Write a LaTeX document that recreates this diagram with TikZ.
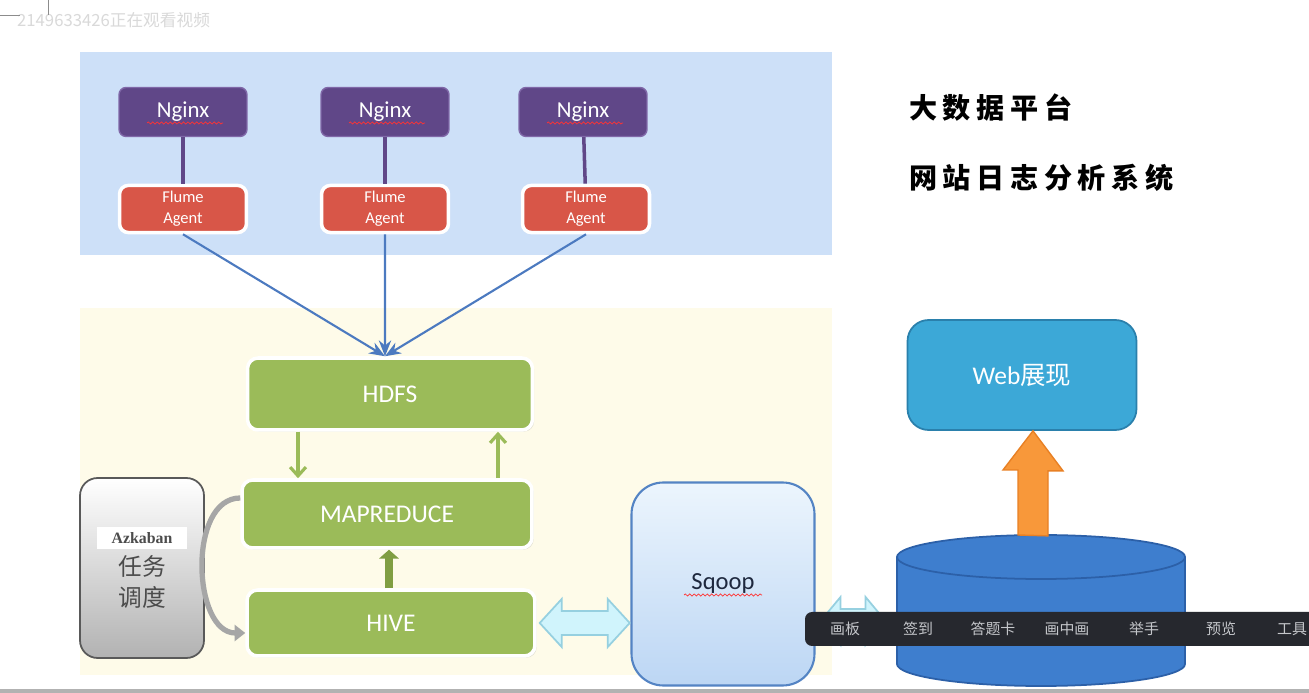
\documentclass[tikz,border=0pt]{standalone}
\usepackage{fontspec}
\setmainfont{Carlito}
\newfontfamily\cjk{Noto Sans CJK SC}
\newfontfamily\cjktitle{Noto Sans CJK SC}[LetterSpace=20]
\newfontfamily\azkfont{Liberation Serif}
\usetikzlibrary{arrows.meta, positioning, calc, shadows, decorations.pathmorphing}

\definecolor{skybg}{RGB}{205,224,248}
\definecolor{creambg}{RGB}{254,251,233}
\definecolor{nginxfill}{RGB}{96,71,136}
\definecolor{nginxline}{RGB}{128,104,168}
\definecolor{flumefill}{RGB}{216,86,72}
\definecolor{feedblue}{RGB}{76,122,192}
\definecolor{hgreen}{RGB}{155,187,89}
\definecolor{hgreendark}{RGB}{128,158,66}
\definecolor{azkgray}{RGB}{178,178,178}
\definecolor{sqtop}{RGB}{236,245,253}
\definecolor{sqbot}{RGB}{188,214,244}
\definecolor{sqline}{RGB}{84,132,196}
\definecolor{cyanfill}{RGB}{208,244,252}
\definecolor{cyanline}{RGB}{150,208,224}
\definecolor{webfill}{RGB}{60,168,215}
\definecolor{webline}{RGB}{42,128,172}
\definecolor{dbfill}{RGB}{62,126,206}
\definecolor{dbline}{RGB}{44,96,168}
\definecolor{orangefill}{RGB}{248,152,58}
\definecolor{orangeline}{RGB}{232,128,36}
\definecolor{barbg}{RGB}{38,40,46}
\definecolor{bartext}{RGB}{196,198,202}

\begin{document}
\begin{tikzpicture}[
    x=0.02cm, y=0.02cm,
    nginx/.style={rectangle, rounded corners=4pt, draw=nginxline, line width=0.8pt, fill=nginxfill, text=white, minimum width=2.56cm, minimum height=0.98cm, font=\fontsize{13}{15}\selectfont},
    flume/.style={rectangle, rounded corners=5pt, draw=white, line width=2pt, fill=flumefill, text=white, minimum width=2.54cm, minimum height=0.94cm, align=center, font=\fontsize{9.4}{12}\selectfont, drop shadow={shadow xshift=0.5pt, shadow yshift=-0.5pt, opacity=0.2}},
    hbox/.style={rectangle, rounded corners=6pt, draw=white, line width=2pt, fill=hgreen, text=white, font=\fontsize{14.5}{16}\selectfont, drop shadow={shadow xshift=1pt, shadow yshift=-1pt, opacity=0.2}},
    feed/.style={-{Stealth[length=9pt,width=7pt]}, draw=feedblue, line width=1.2pt},
    link/.style={draw=nginxfill, line width=2pt},
    gline/.style={-{Straight Barb[length=5pt,width=9pt]}, draw=hgreen, line width=1.8pt},
    sched/.style={-{Triangle[length=6pt,width=9pt]}, draw=gray!70, line width=3pt},
    spell/.style={draw=red!80, line width=0.4pt, decorate, decoration={snake, amplitude=0.6pt, segment length=2.5pt}},
    bartxt/.style={text=bartext, font=\cjk\fontsize{8.5}{10}\selectfont}
]
    \useasboundingbox (0,0) rectangle (1309,693);
    \fill[white] (0,0) rectangle (1309,693);

    % Backgrounds
    \fill[skybg] (80,438) rectangle (832,641);
    \fill[creambg] (80,18) rectangle (832,385);

    % Log sources
    \node[nginx] (n1) at (183,581) {Nginx};
    \node[nginx] (n2) at (385,581) {Nginx};
    \node[nginx] (n3) at (583,581) {Nginx};
    \draw[spell] ([xshift=-0.72cm,yshift=-0.22cm]n1.center) -- ++(76,0);
    \draw[spell] ([xshift=-0.72cm,yshift=-0.22cm]n2.center) -- ++(76,0);
    \draw[spell] ([xshift=-0.72cm,yshift=-0.22cm]n3.center) -- ++(76,0);

    % Collectors
    \node[flume] (f1) at (183,484) {Flume\\Agent};
    \node[flume] (f2) at (385,484) {Flume\\Agent};
    \node[flume] (f3) at (586,484) {Flume\\Agent};
    \draw[link] (n1) -- (f1);
    \draw[link] (n2) -- (f2);
    \draw[link] (n3) -- (f3);

    % Hadoop stack
    \node[hbox, minimum width=5.7cm, minimum height=1.44cm] (hdfs) at (390,299) {HDFS};
    \node[hbox, minimum width=5.8cm, minimum height=1.36cm] (mr) at (387,179) {MAPREDUCE};
    \node[hbox, minimum width=5.76cm, minimum height=1.32cm] (hive) at (391,70) {HIVE};

    \draw[feed] (f1.south) -- ([xshift=-0.1cm]hdfs.north);
    \draw[feed] (f2.south) -- ([xshift=-0.1cm]hdfs.north);
    \draw[feed] (f3.south) -- ([xshift=-0.1cm]hdfs.north);

    \coordinate (dn) at ([xshift=-1.84cm]hdfs.south);
    \coordinate (up) at ([xshift=2.16cm]hdfs.south);
    \draw[gline] (dn) -- (dn |- mr.north);
    \draw[gline] (up |- mr.north) -- (up);
    \draw[-{Triangle[length=5pt,width=11pt]}, draw=hgreendark, line width=4.5pt] ([xshift=-0.04cm]hive.north) -- ([xshift=-0.04cm]hive.north |- mr.south);

    % Scheduler
    \node[rectangle, rounded corners=10pt, draw=black!65, line width=1pt, top color=white, bottom color=azkgray, minimum width=2.48cm, minimum height=3.6cm, align=center, text=black!70, font=\cjk\fontsize{13.5}{18}\selectfont] (azk) at (142,125)
        {\colorbox{white}{\makebox[1.6cm]{\azkfont\bfseries\fontsize{9}{10}\selectfont Azkaban}}\\任务\\调度};
    \draw[sched] ([yshift=0.32cm]mr.west) to[out=180, in=180, looseness=1] ([yshift=-0.2cm]hive.west);

    % Export
    \node[rectangle, rounded corners=18pt, draw=sqline, line width=1.2pt, top color=sqtop, bottom color=sqbot, minimum width=3.66cm, minimum height=4.06cm, text={rgb,255:red,30;green,40;blue,62}, font=\fontsize{14}{16}\selectfont] (sqoop) at (723,109) {Sqoop};
    \draw[spell] ([xshift=-0.78cm,yshift=-0.22cm]sqoop.center) -- ++(78,0);

    \coordinate (hs) at ([xshift=0.06cm]hive.east);
    \filldraw[fill=cyanfill, draw=cyanline, line width=1pt] (hs) -- ++(22,24) -- ++(0,-12) -- ++(46,0) -- ++(0,12) -- ++(22,-24) -- ++(-22,-24) -- ++(0,12) -- ++(-46,0) -- ++(0,-12) -- cycle;
    \coordinate (sd) at ([xshift=0.1cm,yshift=-0.74cm]sqoop.east);
    \filldraw[fill=cyanfill, draw=cyanline, line width=1pt] (sd) -- ++(20,24) -- ++(0,-12) -- ++(25,0) -- ++(0,12) -- ++(20,-24) -- ++(-20,-24) -- ++(0,12) -- ++(-25,0) -- ++(0,-12) -- cycle;

    % Database
    \filldraw[fill=dbfill, draw=dbline, line width=1pt] (897,136) -- (897,29) arc[start angle=180, end angle=360, x radius=144, y radius=22] -- (1185,136);
    \filldraw[fill=dbfill, draw=dbline, line width=1pt] (1041,136) ellipse[x radius=144, y radius=22];
    \coordinate (dbtop) at (1033,158);

    % Presentation
    \node[rectangle, rounded corners=12pt, draw=webline, line width=1pt, fill=webfill, text=white, minimum width=4.58cm, minimum height=2.2cm, font=\fontsize{14.5}{16}\selectfont] (web) at (1022,318) {Web\cjk 展现};
    \coordinate (wb) at (dbtop |- web.south);
    \filldraw[fill=orangefill, draw=orangeline, line width=0.8pt] (dbtop) ++(-15,0) -- ++(0,65) -- ++(-15,0) -- (wb) -- ++(30,-40) -- ++(-15,0) -- ++(0,-65) -- cycle;

    % Titles
    \node[anchor=west, font=\cjktitle\bfseries\fontsize{16}{18}\selectfont] (t1) at (903,585) {大数据平台};
    \node[anchor=west, font=\cjktitle\bfseries\fontsize{16}{18}\selectfont] (t2) at (903,515) {网站日志分析系统};

    % Player overlay
    \fill[barbg, rounded corners=4pt] (805,47) rectangle (1330,81);
    \node[bartxt] (b1) at (845,64) {画板};
    \node[bartxt] (b2) at (918,64) {签到};
    \node[bartxt] (b3) at (993,64) {答题卡};
    \node[bartxt] (b4) at (1067,64) {画中画};
    \node[bartxt] (b5) at (1144,64) {举手};
    \node[bartxt] (b6) at (1221,64) {预览};
    \node[bartxt] (b7) at (1292,64) {工具};
    \node[anchor=west, text=black!15, font=\cjk\fontsize{9.5}{11}\selectfont] (wm) at (11,673) {2149633426正在观看视频};
    \draw[black!45, line width=0.5pt] (48,693) -- (48,678);
    \draw[black!45, line width=0.5pt] (0,678) -- (20,678);
    \fill[black!30] (0,0) rectangle (1309,4);
\end{tikzpicture}
\end{document}
